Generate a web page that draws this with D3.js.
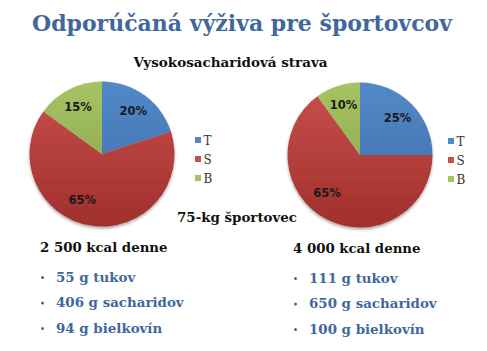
<!DOCTYPE html>
<html><head><meta charset="utf-8">
<script src="https://cdn.jsdelivr.net/npm/d3@7"></script>
<style>html,body{margin:0;padding:0;background:#fff;}svg{display:block;}</style>
</head><body>
<script>
const title = "Odporúčaná výživa pre športovcov";
const subtitle = "Vysokosacharidová strava";
const middleLabel = "75-kg športovec";
const categories = ["T", "S", "B"];
const leftValues = [20, 65, 15];
const rightValues = [25, 65, 10];
const leftHeading = "2 500 kcal denne";
const rightHeading = "4 000 kcal denne";
const leftItems = ["55 g tukov", "406 g sacharidov", "94 g bielkovín"];
const rightItems = ["111 g tukov", "650 g sacharidov", "100 g bielkovín"];

const W = 487, H = 351;
const svg = d3.select("body").append("svg").attr("width", W).attr("height", H);
const defs = svg.append("defs");
const colors = {T: ["#5289c8", "#3b6aa6"], S: ["#c9504c", "#a02f2c"], B: ["#a5c463", "#849f47"]};
const serif = "'DejaVu Serif', serif";

const f = defs.append("filter").attr("id", "sh").attr("x", "-20%").attr("y", "-20%").attr("width", "140%").attr("height", "150%");
f.append("feGaussianBlur").attr("in", "SourceAlpha").attr("stdDeviation", 1.5);
f.append("feOffset").attr("dy", 2).attr("result", "o");
f.append("feComponentTransfer").append("feFuncA").attr("type", "linear").attr("slope", 0.35);
const m = f.append("feMerge"); m.append("feMergeNode"); m.append("feMergeNode").attr("in", "SourceGraphic");

svg.append("text").attr("x", 242).attr("y", 31).attr("text-anchor", "middle")
  .attr("font-family", serif).attr("font-weight", "bold").attr("font-size", 22)
  .attr("fill", "#41679d").text(title);
svg.append("text").attr("x", 230.5).attr("y", 67).attr("text-anchor", "middle")
  .attr("font-family", serif).attr("font-weight", "bold").attr("font-size", 13.5)
  .attr("fill", "#111").text(subtitle);
svg.append("text").attr("x", 237).attr("y", 222).attr("text-anchor", "middle")
  .attr("font-family", serif).attr("font-weight", "bold").attr("font-size", 13.4)
  .attr("fill", "#111").text(middleLabel);

const R = 72.5;
const color = d3.scaleOrdinal().domain(categories).range(categories.map(c => c));
function drawPie(cx, cy, values, id, legendX) {
  const g = svg.append("g").attr("transform", `translate(${cx},${cy})`);
  categories.forEach(c => {
    const lg = defs.append("linearGradient").attr("id", id + c).attr("gradientUnits", "userSpaceOnUse")
      .attr("x1", 0).attr("y1", -R).attr("x2", 0).attr("y2", R);
    lg.append("stop").attr("offset", 0).attr("stop-color", colors[c][0]);
    lg.append("stop").attr("offset", 1).attr("stop-color", colors[c][1]);
  });
  const data = categories.map((c, i) => ({cat: c, value: values[i]}));
  const pie = d3.pie().sort(null).value(d => d.value);
  const arcs = pie(data);
  const arc = d3.arc().innerRadius(0).outerRadius(R);
  const pg = g.append("g").attr("filter", "url(#sh)");
  pg.selectAll("path").data(arcs).join("path")
    .attr("d", arc).attr("fill", d => `url(#${id}${color(d.data.cat)})`);
  // label placement: small slices at their centroid, the large slice nudged clockwise
  const labelPos = d => {
    const big = d.endAngle - d.startAngle > Math.PI;
    const a = (d.startAngle + d.endAngle) / 2 + (big ? 0.25 : 0);
    const r = big ? 50 : 53;
    return [Math.sin(a) * r, -Math.cos(a) * r];
  };
  g.selectAll("text").data(arcs).join("text")
    .attr("transform", d => `translate(${labelPos(d)})`)
    .attr("text-anchor", "middle").attr("dy", "0.35em")
    .attr("font-family", "'DejaVu Sans', sans-serif").attr("font-weight", "bold")
    .attr("font-size", 11.5).attr("fill", "#1a1a1a")
    .text(d => d.data.value + "%");
  const leg = svg.append("g").attr("transform", `translate(${legendX},${cy - 13})`);
  categories.forEach((c, i) => {
    leg.append("rect").attr("x", 0).attr("y", i * 19 - 4).attr("width", 6).attr("height", 6)
      .attr("fill", colors[c][0]);
    leg.append("text").attr("x", 8.5).attr("y", i * 19 + 4)
      .attr("font-family", serif).attr("font-size", 12).attr("fill", "#333").text(c);
  });
}
drawPie(102, 154, leftValues, "l", 195);
drawPie(360, 155, rightValues, "r", 448);

function drawList(x, y, heading, items) {
  svg.append("text").attr("x", x).attr("y", y).attr("font-family", serif).attr("font-weight", "bold")
    .attr("font-size", 13.3).attr("fill", "#111").text(heading);
  items.forEach((t, i) => {
    const yy = y + 29.5 + i * 25.5;
    svg.append("circle").attr("cx", x + 2.5).attr("cy", yy - 4).attr("r", 1.5).attr("fill", "#41679d");
    svg.append("text").attr("x", x + 16).attr("y", yy).attr("font-family", serif).attr("font-weight", "bold")
      .attr("font-size", 13.4).attr("fill", "#41679d").text(t);
  });
}
drawList(40, 252, leftHeading, leftItems);
drawList(293, 253, rightHeading, rightItems);
</script>
</body></html>
